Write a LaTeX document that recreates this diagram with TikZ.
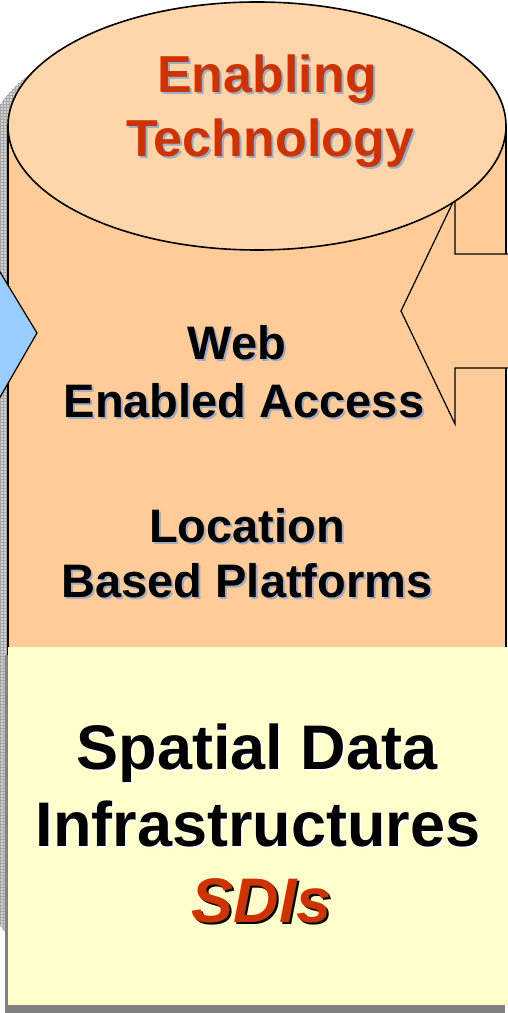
\documentclass[tikz,border=0pt]{standalone}
\usepackage{fontspec}
\setmainfont{Liberation Sans}
\usepackage{xcolor}
\usetikzlibrary{patterns}

\definecolor{peach}{RGB}{255,204,153}
\definecolor{peachtop}{RGB}{255,214,170}
\definecolor{paleyellow}{RGB}{255,255,204}
\definecolor{skyblue}{RGB}{153,204,255}
\definecolor{rust}{RGB}{204,51,0}
\definecolor{shadeblue}{RGB}{160,172,198}
\definecolor{boxshade}{RGB}{128,128,128}

\tikzset{
  words/.style={anchor=base, inner sep=0pt, font=\bfseries\fontsize{#1}{#1}\selectfont},
  outline/.style={draw=black, line width=1.6pt},
}

\begin{document}
\begin{tikzpicture}[x=1pt,y=1pt]
            \useasboundingbox (0,0) rectangle (508,1013);
            \clip (0,0) rectangle (508,1013);

            % hatched shadow of the cylinder
            \fill[gray!35] (-12,870) arc[start angle=180, end angle=0, x radius=249, y radius=124]
                -- (486,126) arc[start angle=0, end angle=-180, x radius=249, y radius=124] -- cycle;
            \fill[pattern=grid, pattern color=gray!70] (-12,870) arc[start angle=180, end angle=0, x radius=249, y radius=124]
                -- (486,126) arc[start angle=0, end angle=-180, x radius=249, y radius=124] -- cycle;

            % cylinder
            \draw[outline, fill=peach] (8,887) -- (8,134) arc[start angle=180, end angle=360, x radius=249, y radius=124] -- (506,887);

            % arrow coming in from the right
            \draw[outline, line width=1.2pt, fill=peach] (530,759) -- (455,759) -- (455,815) -- (401,702)
                -- (455,589) -- (455,645) -- (530,645);

            % top of the cylinder
            \draw[outline, fill=peachtop] (257,887) ellipse[x radius=249, y radius=124];

            % arrow coming in from the left
            \draw[outline, line width=1.2pt, fill=skyblue] (-20,774) -- (37,680) -- (-20,581);

            % SDI box
            \fill[boxshade] (5,0) rectangle (505,358);
            \fill[paleyellow] (8,8) rectangle (515,366);

            % texts
            \node[words=52, shadeblue] (enablingShade) at (269,918) {Enabling};
            \node[words=52, rust] (enabling) at (267,920) {Enabling};
            \node[words=52, shadeblue] (technologyShade) at (272,854) {Technology};
            \node[words=52, rust] (technology) at (270,856) {Technology};

            \node[words=47, shadeblue] (webShade) at (239,651) {Web};
            \node[words=47] (web) at (237,653) {Web};
            \node[words=47, shadeblue] (accessShade) at (246,593) {Enabled Access};
            \node[words=47] (access) at (244,595) {Enabled Access};

            \node[words=47, shadeblue] (locationShade) at (249,468) {Location};
            \node[words=47] (location) at (247,470) {Location};
            \node[words=47, shadeblue] (platformsShade) at (249,413) {Based Platforms};
            \node[words=47] (platforms) at (247,415) {Based Platforms};

            \node[words=63, white] (spatialShade) at (259,241) {Spatial Data};
            \node[words=63] (spatial) at (257,243) {Spatial Data};
            \node[words=63, white] (infraShade) at (260,164) {Infrastructures};
            \node[words=63] (infra) at (258,166) {Infrastructures};
            \node[words=63, black] (sdisShade) at (264,88) {\itshape SDIs};
            \node[words=63, rust] (sdis) at (262,90) {\itshape SDIs};
        \end{tikzpicture}
\end{document}
